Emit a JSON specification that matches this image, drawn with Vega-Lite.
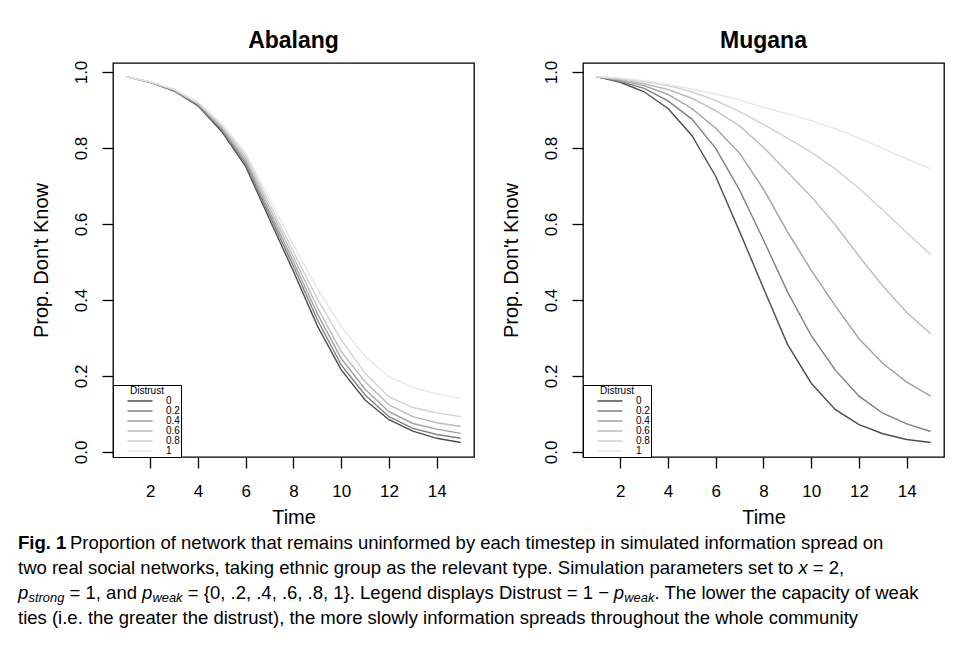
{
  "$schema": "https://vega.github.io/schema/vega-lite/v6.json",
  "background": "white",
  "padding": {"left": 18, "top": 29, "right": 0, "bottom": 0},
  "bounds": "flush",
  "spacing": 467,
  "config": {
    "font": "Liberation Sans",
    "view": {"stroke": "black", "strokeWidth": 1.3},
    "axis": {"grid": false, "domain": false, "tickColor": "black", "tickSize": 11, "tickWidth": 1.3, "labelColor": "black", "titleColor": "black", "labelFontSize": 17, "titleFontSize": 20, "titleFontWeight": "normal", "labelFont": "Liberation Sans", "titleFont": "Liberation Sans"},
    "title": {"fontSize": 23, "fontWeight": "bold", "color": "black", "baseline": "alphabetic", "offset": 7, "anchor": "middle", "font": "Liberation Sans"},
    "legend": {"orient": "bottom-left", "offset": 0, "titleFontSize": 10, "titleFontWeight": "normal", "titleColor": "black", "titleAnchor": "middle", "titlePadding": 0, "labelFontSize": 10, "labelColor": "black", "labelOffset": 21, "symbolType": "M-5,0H5", "symbolSize": 25, "symbolStrokeWidth": 1.5, "symbolOffset": 21, "rowPadding": -2.3, "padding": 1, "strokeColor": "black", "fillColor": "white", "labelFont": "Liberation Sans", "titleFont": "Liberation Sans"},
    "text": {"font": "Liberation Sans", "color": "black", "align": "left", "baseline": "middle"}
  },
  "datasets": {
    "curves": [
      {"net":"Abalang","d":"0","t":1,"v":0.988},{"net":"Abalang","d":"0","t":2,"v":0.973},{"net":"Abalang","d":"0","t":3,"v":0.950},{"net":"Abalang","d":"0","t":4,"v":0.911},{"net":"Abalang","d":"0","t":5,"v":0.843},{"net":"Abalang","d":"0","t":6,"v":0.751},{"net":"Abalang","d":"0","t":7,"v":0.612},{"net":"Abalang","d":"0","t":8,"v":0.475},{"net":"Abalang","d":"0","t":9,"v":0.332},{"net":"Abalang","d":"0","t":10,"v":0.216},{"net":"Abalang","d":"0","t":11,"v":0.137},{"net":"Abalang","d":"0","t":12,"v":0.085},{"net":"Abalang","d":"0","t":13,"v":0.055},{"net":"Abalang","d":"0","t":14,"v":0.036},{"net":"Abalang","d":"0","t":15,"v":0.025},
      {"net":"Abalang","d":"0.2","t":1,"v":0.988},{"net":"Abalang","d":"0.2","t":2,"v":0.973},{"net":"Abalang","d":"0.2","t":3,"v":0.951},{"net":"Abalang","d":"0.2","t":4,"v":0.913},{"net":"Abalang","d":"0.2","t":5,"v":0.847},{"net":"Abalang","d":"0.2","t":6,"v":0.758},{"net":"Abalang","d":"0.2","t":7,"v":0.622},{"net":"Abalang","d":"0.2","t":8,"v":0.488},{"net":"Abalang","d":"0.2","t":9,"v":0.348},{"net":"Abalang","d":"0.2","t":10,"v":0.229},{"net":"Abalang","d":"0.2","t":11,"v":0.150},{"net":"Abalang","d":"0.2","t":12,"v":0.093},{"net":"Abalang","d":"0.2","t":13,"v":0.062},{"net":"Abalang","d":"0.2","t":14,"v":0.046},{"net":"Abalang","d":"0.2","t":15,"v":0.036},
      {"net":"Abalang","d":"0.4","t":1,"v":0.988},{"net":"Abalang","d":"0.4","t":2,"v":0.973},{"net":"Abalang","d":"0.4","t":3,"v":0.952},{"net":"Abalang","d":"0.4","t":4,"v":0.915},{"net":"Abalang","d":"0.4","t":5,"v":0.851},{"net":"Abalang","d":"0.4","t":6,"v":0.765},{"net":"Abalang","d":"0.4","t":7,"v":0.632},{"net":"Abalang","d":"0.4","t":8,"v":0.500},{"net":"Abalang","d":"0.4","t":9,"v":0.364},{"net":"Abalang","d":"0.4","t":10,"v":0.246},{"net":"Abalang","d":"0.4","t":11,"v":0.165},{"net":"Abalang","d":"0.4","t":12,"v":0.106},{"net":"Abalang","d":"0.4","t":13,"v":0.075},{"net":"Abalang","d":"0.4","t":14,"v":0.060},{"net":"Abalang","d":"0.4","t":15,"v":0.049},
      {"net":"Abalang","d":"0.6","t":1,"v":0.988},{"net":"Abalang","d":"0.6","t":2,"v":0.974},{"net":"Abalang","d":"0.6","t":3,"v":0.953},{"net":"Abalang","d":"0.6","t":4,"v":0.917},{"net":"Abalang","d":"0.6","t":5,"v":0.855},{"net":"Abalang","d":"0.6","t":6,"v":0.772},{"net":"Abalang","d":"0.6","t":7,"v":0.642},{"net":"Abalang","d":"0.6","t":8,"v":0.513},{"net":"Abalang","d":"0.6","t":9,"v":0.381},{"net":"Abalang","d":"0.6","t":10,"v":0.264},{"net":"Abalang","d":"0.6","t":11,"v":0.185},{"net":"Abalang","d":"0.6","t":12,"v":0.124},{"net":"Abalang","d":"0.6","t":13,"v":0.093},{"net":"Abalang","d":"0.6","t":14,"v":0.077},{"net":"Abalang","d":"0.6","t":15,"v":0.067},
      {"net":"Abalang","d":"0.8","t":1,"v":0.988},{"net":"Abalang","d":"0.8","t":2,"v":0.974},{"net":"Abalang","d":"0.8","t":3,"v":0.954},{"net":"Abalang","d":"0.8","t":4,"v":0.919},{"net":"Abalang","d":"0.8","t":5,"v":0.859},{"net":"Abalang","d":"0.8","t":6,"v":0.779},{"net":"Abalang","d":"0.8","t":7,"v":0.652},{"net":"Abalang","d":"0.8","t":8,"v":0.527},{"net":"Abalang","d":"0.8","t":9,"v":0.403},{"net":"Abalang","d":"0.8","t":10,"v":0.295},{"net":"Abalang","d":"0.8","t":11,"v":0.207},{"net":"Abalang","d":"0.8","t":12,"v":0.145},{"net":"Abalang","d":"0.8","t":13,"v":0.117},{"net":"Abalang","d":"0.8","t":14,"v":0.103},{"net":"Abalang","d":"0.8","t":15,"v":0.093},
      {"net":"Abalang","d":"1","t":1,"v":0.988},{"net":"Abalang","d":"1","t":2,"v":0.974},{"net":"Abalang","d":"1","t":3,"v":0.955},{"net":"Abalang","d":"1","t":4,"v":0.921},{"net":"Abalang","d":"1","t":5,"v":0.863},{"net":"Abalang","d":"1","t":6,"v":0.787},{"net":"Abalang","d":"1","t":7,"v":0.664},{"net":"Abalang","d":"1","t":8,"v":0.545},{"net":"Abalang","d":"1","t":9,"v":0.430},{"net":"Abalang","d":"1","t":10,"v":0.330},{"net":"Abalang","d":"1","t":11,"v":0.251},{"net":"Abalang","d":"1","t":12,"v":0.198},{"net":"Abalang","d":"1","t":13,"v":0.170},{"net":"Abalang","d":"1","t":14,"v":0.153},{"net":"Abalang","d":"1","t":15,"v":0.141},
      {"net":"Mugana","d":"0","t":1,"v":0.988},{"net":"Mugana","d":"0","t":2,"v":0.973},{"net":"Mugana","d":"0","t":3,"v":0.948},{"net":"Mugana","d":"0","t":4,"v":0.904},{"net":"Mugana","d":"0","t":5,"v":0.833},{"net":"Mugana","d":"0","t":6,"v":0.725},{"net":"Mugana","d":"0","t":7,"v":0.580},{"net":"Mugana","d":"0","t":8,"v":0.431},{"net":"Mugana","d":"0","t":9,"v":0.284},{"net":"Mugana","d":"0","t":10,"v":0.181},{"net":"Mugana","d":"0","t":11,"v":0.112},{"net":"Mugana","d":"0","t":12,"v":0.072},{"net":"Mugana","d":"0","t":13,"v":0.048},{"net":"Mugana","d":"0","t":14,"v":0.033},{"net":"Mugana","d":"0","t":15,"v":0.025},
      {"net":"Mugana","d":"0.2","t":1,"v":0.988},{"net":"Mugana","d":"0.2","t":2,"v":0.975},{"net":"Mugana","d":"0.2","t":3,"v":0.957},{"net":"Mugana","d":"0.2","t":4,"v":0.924},{"net":"Mugana","d":"0.2","t":5,"v":0.876},{"net":"Mugana","d":"0.2","t":6,"v":0.799},{"net":"Mugana","d":"0.2","t":7,"v":0.689},{"net":"Mugana","d":"0.2","t":8,"v":0.558},{"net":"Mugana","d":"0.2","t":9,"v":0.422},{"net":"Mugana","d":"0.2","t":10,"v":0.306},{"net":"Mugana","d":"0.2","t":11,"v":0.216},{"net":"Mugana","d":"0.2","t":12,"v":0.147},{"net":"Mugana","d":"0.2","t":13,"v":0.102},{"net":"Mugana","d":"0.2","t":14,"v":0.074},{"net":"Mugana","d":"0.2","t":15,"v":0.054},
      {"net":"Mugana","d":"0.4","t":1,"v":0.988},{"net":"Mugana","d":"0.4","t":2,"v":0.978},{"net":"Mugana","d":"0.4","t":3,"v":0.964},{"net":"Mugana","d":"0.4","t":4,"v":0.941},{"net":"Mugana","d":"0.4","t":5,"v":0.904},{"net":"Mugana","d":"0.4","t":6,"v":0.852},{"net":"Mugana","d":"0.4","t":7,"v":0.786},{"net":"Mugana","d":"0.4","t":8,"v":0.692},{"net":"Mugana","d":"0.4","t":9,"v":0.580},{"net":"Mugana","d":"0.4","t":10,"v":0.478},{"net":"Mugana","d":"0.4","t":11,"v":0.385},{"net":"Mugana","d":"0.4","t":12,"v":0.298},{"net":"Mugana","d":"0.4","t":13,"v":0.233},{"net":"Mugana","d":"0.4","t":14,"v":0.184},{"net":"Mugana","d":"0.4","t":15,"v":0.147},
      {"net":"Mugana","d":"0.6","t":1,"v":0.988},{"net":"Mugana","d":"0.6","t":2,"v":0.980},{"net":"Mugana","d":"0.6","t":3,"v":0.969},{"net":"Mugana","d":"0.6","t":4,"v":0.954},{"net":"Mugana","d":"0.6","t":5,"v":0.931},{"net":"Mugana","d":"0.6","t":6,"v":0.898},{"net":"Mugana","d":"0.6","t":7,"v":0.858},{"net":"Mugana","d":"0.6","t":8,"v":0.802},{"net":"Mugana","d":"0.6","t":9,"v":0.737},{"net":"Mugana","d":"0.6","t":10,"v":0.672},{"net":"Mugana","d":"0.6","t":11,"v":0.598},{"net":"Mugana","d":"0.6","t":12,"v":0.515},{"net":"Mugana","d":"0.6","t":13,"v":0.437},{"net":"Mugana","d":"0.6","t":14,"v":0.367},{"net":"Mugana","d":"0.6","t":15,"v":0.311},
      {"net":"Mugana","d":"0.8","t":1,"v":0.988},{"net":"Mugana","d":"0.8","t":2,"v":0.983},{"net":"Mugana","d":"0.8","t":3,"v":0.975},{"net":"Mugana","d":"0.8","t":4,"v":0.964},{"net":"Mugana","d":"0.8","t":5,"v":0.948},{"net":"Mugana","d":"0.8","t":6,"v":0.925},{"net":"Mugana","d":"0.8","t":7,"v":0.896},{"net":"Mugana","d":"0.8","t":8,"v":0.862},{"net":"Mugana","d":"0.8","t":9,"v":0.826},{"net":"Mugana","d":"0.8","t":10,"v":0.789},{"net":"Mugana","d":"0.8","t":11,"v":0.745},{"net":"Mugana","d":"0.8","t":12,"v":0.694},{"net":"Mugana","d":"0.8","t":13,"v":0.637},{"net":"Mugana","d":"0.8","t":14,"v":0.577},{"net":"Mugana","d":"0.8","t":15,"v":0.520},
      {"net":"Mugana","d":"1","t":1,"v":0.988},{"net":"Mugana","d":"1","t":2,"v":0.984},{"net":"Mugana","d":"1","t":3,"v":0.977},{"net":"Mugana","d":"1","t":4,"v":0.967},{"net":"Mugana","d":"1","t":5,"v":0.955},{"net":"Mugana","d":"1","t":6,"v":0.942},{"net":"Mugana","d":"1","t":7,"v":0.926},{"net":"Mugana","d":"1","t":8,"v":0.907},{"net":"Mugana","d":"1","t":9,"v":0.890},{"net":"Mugana","d":"1","t":10,"v":0.872},{"net":"Mugana","d":"1","t":11,"v":0.851},{"net":"Mugana","d":"1","t":12,"v":0.826},{"net":"Mugana","d":"1","t":13,"v":0.799},{"net":"Mugana","d":"1","t":14,"v":0.771},{"net":"Mugana","d":"1","t":15,"v":0.745}
    ],
    "caption": [
      {"line": 1, "part": "bold", "txt": "Fig. 1"},
      {"line": 1, "part": "rest", "txt": "Proportion of network that remains uninformed by each timestep in simulated information spread on"},
      {"line": 2, "part": "l2a", "txt": "two real social networks, taking ethnic group as the relevant type. Simulation parameters set to"},
      {"line": 2, "part": "l2x", "txt": "x"},
      {"line": 2, "part": "l2b", "txt": "= 2,"},
      {"line": 3, "part": "s1", "txt": "p"},
      {"line": 3, "part": "s2", "txt": "strong"},
      {"line": 3, "part": "s3", "txt": "= 1, and"},
      {"line": 3, "part": "s4", "txt": "p"},
      {"line": 3, "part": "s5", "txt": "weak"},
      {"line": 3, "part": "s6", "txt": "= {0, .2, .4, .6, .8, 1}. Legend displays Distrust = 1 −"},
      {"line": 3, "part": "s7", "txt": "p"},
      {"line": 3, "part": "s8", "txt": "weak"},
      {"line": 3, "part": "s9", "txt": ". The lower the capacity of weak"},
      {"line": 4, "part": "plain", "txt": "ties (i.e. the greater the distrust), the more slowly information spreads throughout the whole community"}
    ]
  },
  "vconcat": [
    {
      "hconcat": [
        {
          "width": 361, "height": 394,
          "title": "Abalang",
          "data": {"name": "curves"},
          "transform": [{"filter": "datum.net == 'Abalang'"}],
          "mark": {"type": "line", "strokeWidth": 1.4},
          "encoding": {
            "x": {"field": "t", "type": "quantitative", "scale": {"domain": [0.44, 15.56], "nice": false, "zero": false},
                  "axis": {"values": [2, 4, 6, 8, 10, 12, 14], "title": "Time", "labelPadding": 15, "labelBaseline": "top", "titleBaseline": "alphabetic", "titleY": 66}},
            "y": {"field": "v", "type": "quantitative", "scale": {"domain": [-0.0132, 1.0237], "nice": false, "zero": false},
                  "axis": {"values": [0, 0.2, 0.4, 0.6, 0.8, 1], "format": ".1f", "title": "Prop. Don't Know", "labelAngle": -90, "labelAlign": "center", "labelBaseline": "bottom", "labelPadding": 12, "titleX": -66, "titleY": 197, "titleAngle": -90, "titleAlign": "center", "titleBaseline": "alphabetic"}},
            "color": {"field": "d", "type": "nominal",
                      "scale": {"domain": ["0", "0.2", "0.4", "0.6", "0.8", "1"], "range": ["#4d4d4d", "#7f7f7f", "#a0a0a0", "#bbbbbb", "#d1d1d1", "#e6e6e6"]},
                      "legend": {"title": "Distrust"}}
          }
        },
        {
          "width": 361, "height": 394,
          "title": "Mugana",
          "data": {"name": "curves"},
          "transform": [{"filter": "datum.net == 'Mugana'"}],
          "mark": {"type": "line", "strokeWidth": 1.4},
          "encoding": {
            "x": {"field": "t", "type": "quantitative", "scale": {"domain": [0.44, 15.56], "nice": false, "zero": false},
                  "axis": {"values": [2, 4, 6, 8, 10, 12, 14], "title": "Time", "labelPadding": 15, "labelBaseline": "top", "titleBaseline": "alphabetic", "titleY": 66}},
            "y": {"field": "v", "type": "quantitative", "scale": {"domain": [-0.0132, 1.0237], "nice": false, "zero": false},
                  "axis": {"values": [0, 0.2, 0.4, 0.6, 0.8, 1], "format": ".1f", "title": "Prop. Don't Know", "labelAngle": -90, "labelAlign": "center", "labelBaseline": "bottom", "labelPadding": 12, "titleX": -66, "titleY": 197, "titleAngle": -90, "titleAlign": "center", "titleBaseline": "alphabetic"}},
            "color": {"field": "d", "type": "nominal",
                      "scale": {"domain": ["0", "0.2", "0.4", "0.6", "0.8", "1"], "range": ["#4d4d4d", "#7f7f7f", "#a0a0a0", "#bbbbbb", "#d1d1d1", "#e6e6e6"]},
                      "legend": {"title": "Distrust"}}
          }
        }
      ],
      "spacing": 109,
      "bounds": "flush",
      "resolve": {"legend": {"color": "independent"}}
    },
    {
      "width": 920, "height": 100,
      "view": {"stroke": null},
      "data": {"name": "caption"},
      "encoding": {
        "x": {"value": -95},
        "y": {"field": "line", "type": "quantitative", "scale": {"domain": [0.5, 4.5], "reverse": true}, "axis": null},
        "text": {"field": "txt"}
      },
      "layer": [
        {"transform": [{"filter": "datum.part == 'bold'"}], "mark": {"type": "text", "fontSize": 18.5, "fontWeight": "bold"}},
        {"transform": [{"filter": "datum.part == 'rest'"}], "mark": {"type": "text", "fontSize": 18.5, "dx": 52}},
        {"transform": [{"filter": "datum.part == 'plain' || datum.part == 'l2a'"}], "mark": {"type": "text", "fontSize": 18.5}},
        {"transform": [{"filter": "datum.part == 'l2x'"}], "mark": {"type": "text", "fontSize": 18.5, "fontStyle": "italic", "dx": 780.4}},
        {"transform": [{"filter": "datum.part == 'l2b'"}], "mark": {"type": "text", "fontSize": 18.5, "dx": 794.8}},
        {"transform": [{"filter": "datum.part == 's1'"}], "mark": {"type": "text", "fontSize": 18.5, "fontStyle": "italic"}},
        {"transform": [{"filter": "datum.part == 's2'"}], "mark": {"type": "text", "fontSize": 12.9, "fontStyle": "italic", "dx": 10.5, "dy": 5}},
        {"transform": [{"filter": "datum.part == 's3'"}], "mark": {"type": "text", "fontSize": 18.5, "dx": 51.6}},
        {"transform": [{"filter": "datum.part == 's4'"}], "mark": {"type": "text", "fontSize": 18.5, "fontStyle": "italic", "dx": 123.9}},
        {"transform": [{"filter": "datum.part == 's5'"}], "mark": {"type": "text", "fontSize": 12.9, "fontStyle": "italic", "dx": 134.4, "dy": 5}},
        {"transform": [{"filter": "datum.part == 's6'"}], "mark": {"type": "text", "fontSize": 18.5, "dx": 169.8}},
        {"transform": [{"filter": "datum.part == 's7'"}], "mark": {"type": "text", "fontSize": 18.5, "fontStyle": "italic", "dx": 595.8}},
        {"transform": [{"filter": "datum.part == 's8'"}], "mark": {"type": "text", "fontSize": 12.9, "fontStyle": "italic", "dx": 606.3, "dy": 5}},
        {"transform": [{"filter": "datum.part == 's9'"}], "mark": {"type": "text", "fontSize": 18.5, "dx": 636.5}}
      ]
    }
  ]
}
